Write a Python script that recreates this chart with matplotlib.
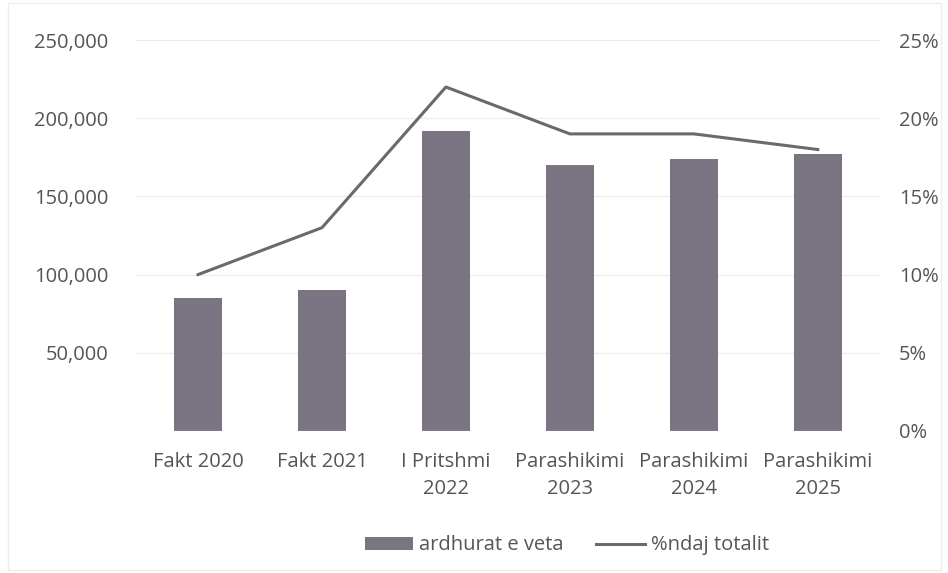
import matplotlib.pyplot as plt
from matplotlib.ticker import FuncFormatter

categories = ["Fakt 2020", "Fakt 2021", "I Pritshmi\n2022", "Parashikimi\n2023",
              "Parashikimi\n2024", "Parashikimi\n2025"]
ardhurat = [85000, 90000, 192000, 170000, 174000, 177000]
perqindja = [10, 13, 22, 19, 19, 18]

plt.rcParams['font.family'] = ['Open Sans', 'DejaVu Sans']
txt = '#555555'
fs = 14.5

fig = plt.figure(figsize=(9.48, 5.73), dpi=100)
ax = fig.add_axes([0.1435, 0.248, 0.7845, 0.682])
x = range(len(categories))
bars = ax.bar(x, ardhurat, width=0.39, color='#7b7583', label='ardhurat e veta', zorder=2)
ax.set_ylim(0, 250000)
ax.set_xlim(-0.5, len(categories) - 0.5)
ax.set_yticks([50000, 100000, 150000, 200000, 250000])
ax.yaxis.set_major_formatter(FuncFormatter(lambda v, p: f"{int(v):,}"))
ax.grid(axis='y', color='#ececec', lw=0.8, zorder=0)
ax.set_xticks(list(x))
ax.set_xticklabels(categories, linespacing=1.5)
ax.tick_params(axis='both', length=0, colors=txt, labelsize=fs)
ax.tick_params(axis='y', pad=20)
ax.tick_params(axis='x', pad=15)
for s in ax.spines.values():
    s.set_visible(False)
ax.axhline(0, color='#e8e8e8', lw=0.8)

ax2 = ax.twinx()
line, = ax2.plot(x, perqindja, color='#6a6a6a', lw=2.2, label='%ndaj totalit', zorder=3)
ax2.set_ylim(0, 25)
ax2.set_yticks([0, 5, 10, 15, 20, 25])
ax2.yaxis.set_major_formatter(FuncFormatter(lambda v, p: f"{int(v)}%"))
ax2.tick_params(axis='y', length=0, colors=txt, labelsize=fs, pad=14)
for s in ax2.spines.values():
    s.set_visible(False)

fig.legend([bars, line], ['ardhurat e veta', '%ndaj totalit'], loc='center',
           bbox_to_anchor=(0.598, 0.048), ncol=2, frameon=False, fontsize=fs,
           labelcolor=txt, handlelength=2.4, handleheight=0.6, columnspacing=1.6,
           handletextpad=0.3)

fig.patches.append(plt.Rectangle((0.008, 0.005), 0.985, 0.99, transform=fig.transFigure,
                                 fill=False, edgecolor='#eeeeee', lw=1))
fig.savefig('out.png', dpi=100, facecolor='white')
